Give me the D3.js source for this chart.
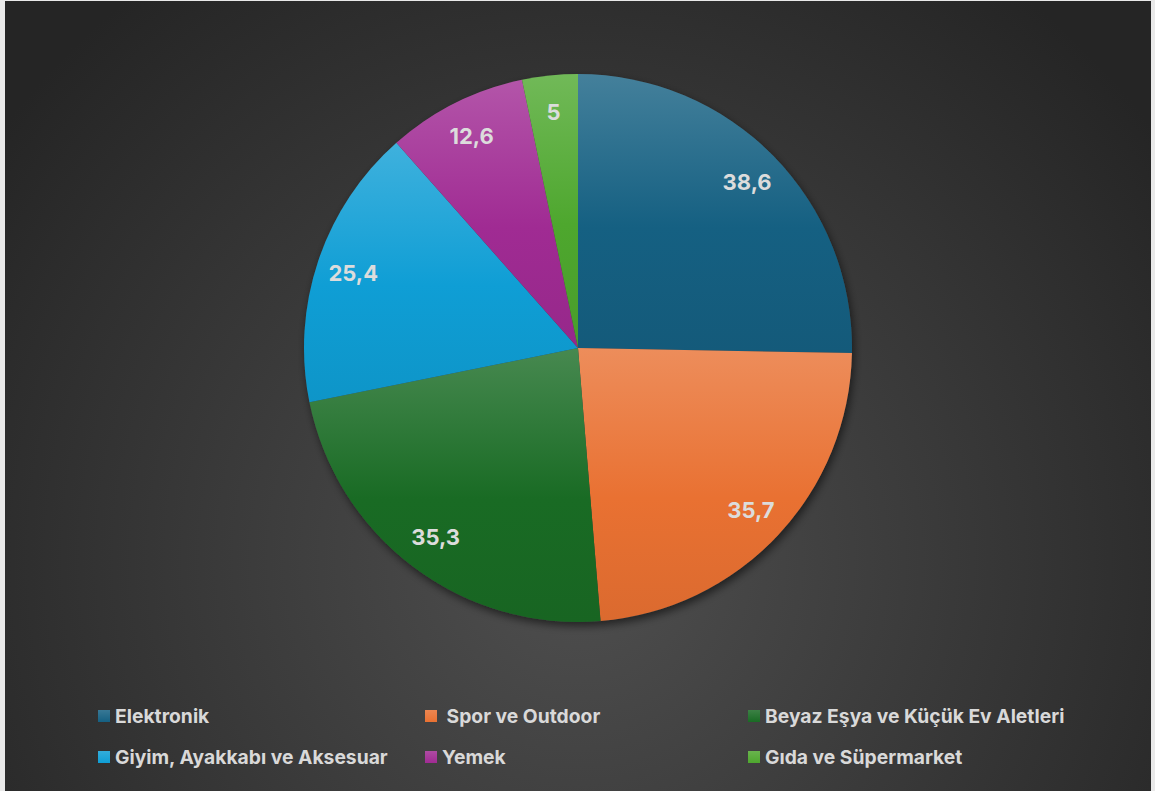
<!DOCTYPE html>
<html>
<head>
<meta charset="utf-8">
<script src="https://cdn.jsdelivr.net/npm/d3@7"></script>
<style>
html,body{margin:0;padding:0;background:#e9e9e9;}
svg{display:block;}
</style>
</head>
<body>
<svg id="chart" width="1155" height="791"></svg>
<script>
const categories = ["Elektronik", " Spor ve Outdoor", "Beyaz Eşya ve Küçük Ev Aletleri", "Giyim, Ayakkabı ve Aksesuar", "Yemek", "Gıda ve Süpermarket"];
const values = [38.6, 35.7, 35.3, 25.4, 12.6, 5];
const labels = ["38,6", "35,7", "35,3", "25,4", "12,6", "5"];
const colors = ["#156082", "#E97132", "#196B24", "#0F9ED5", "#A02B93", "#4EA72E"];

const W = 1155, H = 791;
const svg = d3.select("#chart");
const defs = svg.append("defs");

const bg = defs.append("radialGradient").attr("id","bg")
  .attr("gradientUnits","userSpaceOnUse").attr("cx",578).attr("cy",560).attr("r",720);
bg.append("stop").attr("offset","0").attr("stop-color","#4f4f4f");
bg.append("stop").attr("offset","1").attr("stop-color","#252525");

const sh = defs.append("filter").attr("id","shadow").attr("x","-20%").attr("y","-20%").attr("width","140%").attr("height","140%");
sh.append("feDropShadow").attr("dx",2).attr("dy",4).attr("stdDeviation",4).attr("flood-color","#000").attr("flood-opacity",0.55);

colors.forEach((c,i)=>{
  const g = defs.append("linearGradient").attr("id","g"+i).attr("x1",0).attr("y1",0).attr("x2",0).attr("y2",1);
  g.append("stop").attr("offset","0").attr("stop-color", d3.interpolateRgb(c,"#ffffff")(0.2));
  g.append("stop").attr("offset","0.55").attr("stop-color", c);
  g.append("stop").attr("offset","1").attr("stop-color", d3.interpolateRgb(c,"#000000")(0.06));
  const lg = defs.append("linearGradient").attr("id","lg"+i).attr("x1",0).attr("y1",0).attr("x2",0).attr("y2",1);
  lg.append("stop").attr("offset","0").attr("stop-color", d3.interpolateRgb(c,"#ffffff")(0.15));
  lg.append("stop").attr("offset","1").attr("stop-color", c);
});

svg.append("rect").attr("x",5).attr("y",1).attr("width",1146).attr("height",H-1).attr("fill","url(#bg)");

const cx = 578, cy = 348, R = 274;
const pie = d3.pie().sort(null).value(d=>d);
const arcs = pie(values);
const arc = d3.arc().innerRadius(0).outerRadius(R);
const labelArc = d3.arc().innerRadius(237).outerRadius(237);

const g = svg.append("g").attr("transform",`translate(${cx},${cy})`);
g.append("circle").attr("r",R).attr("fill","#3a3a3a").attr("filter","url(#shadow)");
g.selectAll("path.slice").data(arcs).enter().append("path")
  .attr("class","slice").attr("d",arc).attr("fill",(d,i)=>`url(#g${i})`);

g.selectAll("text.lbl").data(arcs).enter().append("text")
  .attr("class","lbl")
  .attr("transform",d=>{const p = labelArc.centroid(d); return `translate(${p[0]},${p[1]})`;})
  .attr("text-anchor","middle").attr("dominant-baseline","central")
  .attr("font-family","Inter, 'Open Sans', sans-serif").attr("font-weight","bold").attr("font-size","22px")
  .attr("fill","#dcdcdc")
  .text((d,i)=>labels[i]);

// legend
const colX = [98, 425, 748];
const rowY = [716, 757];
const leg = svg.append("g");
categories.forEach((c,i)=>{
  const col = i%3, row = Math.floor(i/3);
  const x = colX[col], y = rowY[row];
  leg.append("rect").attr("x",x).attr("y",y-6).attr("width",12).attr("height",12).attr("fill",`url(#lg${i})`);
  leg.append("text").attr("x",x+17).attr("y",y).attr("dominant-baseline","central")
    .attr("font-family","Inter, 'Open Sans', sans-serif").attr("font-weight","bold").attr("font-size","19.3px")
    .attr("fill","#d9d9d9").attr("xml:space","preserve").style("white-space","pre").text(c);
});
</script>
</body>
</html>
